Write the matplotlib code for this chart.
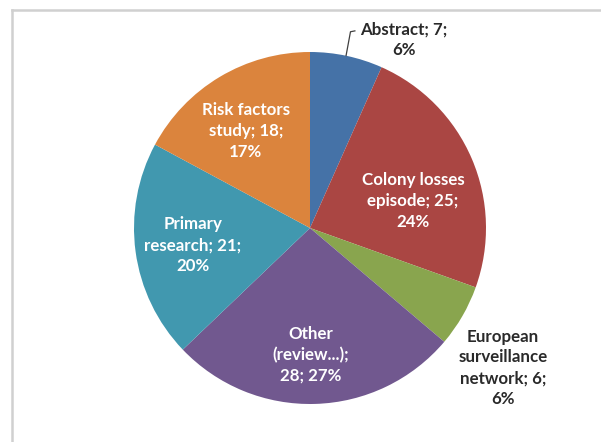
import matplotlib
matplotlib.use("Agg")
import matplotlib.pyplot as plt
from matplotlib.lines import Line2D

# values
categories = ["Abstract", "Colony losses\nepisode", "European\nsurveillance\nnetwork",
              "Other\n(review...)", "Primary\nresearch", "Risk factors\nstudy"]
counts = [7, 25, 6, 28, 21, 18]
percents = [6, 24, 6, 27, 20, 17]
label_texts = [
    "Abstract; 7;\n6%",
    "Colony losses\nepisode; 25;\n24%",
    "European\nsurveillance\nnetwork; 6;\n6%",
    "Other\n(review...);\n28; 27%",
    "Primary\nresearch; 21;\n20%",
    "Risk factors\nstudy; 18;\n17%",
]
colors = ["#4572A7", "#AA4643", "#89A54E", "#71588F", "#4198AF", "#DB843D"]

# label positions in pie units (radius = 1) and whether text sits inside
label_pos = [(0.535, 1.07), (0.585, 0.153), (1.097, -0.795),
             (0.006, -0.72), (-0.665, -0.097), (-0.364, 0.551)]
inside = [False, True, False, True, True, True]

W, H = 601, 442
fig = plt.figure(figsize=(W / 100, H / 100), dpi=100)

# pie centre (310, 228) px, radius 176 px
cx, cy, r = 310, 228, 176
ax = fig.add_axes([(cx - r) / W, (H - cy - r) / H, 2 * r / W, 2 * r / H])
ax.pie(counts, colors=colors, startangle=90, counterclock=False,
       wedgeprops=dict(linewidth=0), radius=1)
ax.set_xlim(-1, 1)
ax.set_ylim(-1, 1)
ax.axis("off")

for txt, (x, y), ins in zip(label_texts, label_pos, inside):
    ax.text(x, y, txt, ha="center", va="center", family="Lato",
            fontweight="bold", fontsize=12.2, linespacing=1.38,
            color="white" if ins else "#2a2a2a", clip_on=False)

# leader line for the Abstract label
ax.add_line(Line2D([0.255, 0.23, 0.205], [1.12, 1.115, 0.98],
                   color="#404040", linewidth=0.9, clip_on=False))

# chart area border (cropped)
fig.add_artist(Line2D([12 / W, 12 / W], [0, 1 - 10 / H], color="#D0D0D0", linewidth=1.8))
fig.add_artist(Line2D([12 / W, 1], [1 - 10 / H, 1 - 10 / H], color="#D0D0D0", linewidth=1.8))

fig.savefig("out.png", dpi=100, facecolor="white")
